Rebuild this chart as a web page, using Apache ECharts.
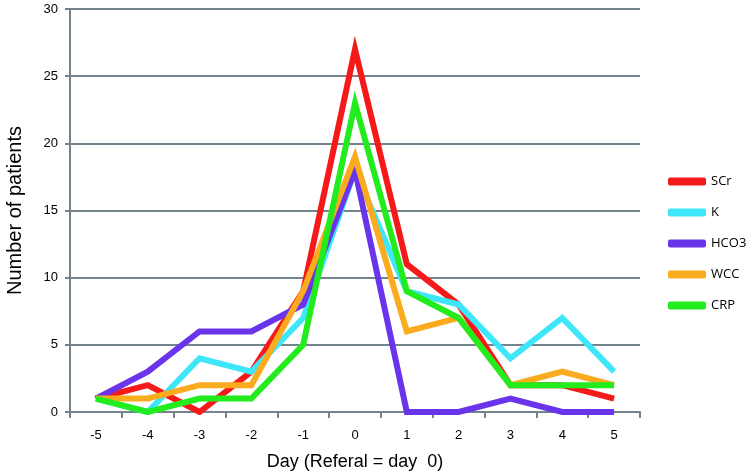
<!DOCTYPE html>
<html>
<head>
<meta charset="utf-8">
<script src="https://cdn.jsdelivr.net/npm/echarts@6/dist/echarts.min.js"></script>
<style>
  html, body { margin: 0; padding: 0; background: #fff; }
  #chart { width: 750px; height: 474px; }
</style>
</head>
<body>
<div id="chart"></div>
<script>
const days = ['-5', '-4', '-3', '-2', '-1', '0', '1', '2', '3', '4', '5']
const scr = [1, 2, 0, 3, 9, 27, 11, 8, 2, 2, 1]
const k = [1, 0, 4, 3, 7, 18, 9, 8, 4, 7, 3]
const hco3 = [1, 3, 6, 6, 8, 18, 0, 0, 1, 0, 0]
const wcc = [1, 1, 2, 2, 9, 19, 6, 7, 2, 3, 2]
const crp = [1, 0, 1, 1, 5, 23, 9, 7, 2, 2, 2]

const axisGrey = '#74848c'

const line = (name, data, color) => ({
  name,
  type: 'line',
  data,
  symbol: 'none',
  animation: false,
  lineStyle: { color, width: 6, join: 'miter' },
  itemStyle: { color },
})

const chart = echarts.init(document.getElementById('chart'))
chart.setOption({
  animation: false,
  textStyle: { fontFamily: 'Liberation Sans' },
  grid: { left: 70, right: 110, top: 9, bottom: 62, outerBoundsMode: 'none', containLabel: false },
  legend: {
    orient: 'vertical',
    left: 663,
    top: 170,
    itemWidth: 38,
    itemHeight: 8,
    itemGap: 18,
    icon: 'roundRect',
    textStyle: { fontSize: 13, color: '#000', fontFamily: 'Open Sans' },
    data: ['SCr', 'K', 'HCO3', 'WCC', 'CRP'],
  },
  xAxis: {
    type: 'category',
    data: days,
    boundaryGap: true,
    name: 'Day (Referal = day  0)',
    nameLocation: 'middle',
    nameGap: 41,
    nameTextStyle: { fontSize: 18, color: '#000' },
    axisLine: { lineStyle: { color: axisGrey, width: 2 } },
    axisTick: { show: true, length: 6, lineStyle: { color: axisGrey, width: 2 } },
    axisLabel: { fontSize: 13, color: '#000', margin: 17 },
  },
  yAxis: {
    type: 'value',
    min: 0,
    max: 30,
    interval: 5,
    name: 'Number of patients',
    nameLocation: 'middle',
    nameGap: 45,
    nameTextStyle: { fontSize: 20, color: '#000' },
    axisLine: { show: true, lineStyle: { color: axisGrey, width: 2 } },
    axisTick: { show: true, length: 5, lineStyle: { color: axisGrey, width: 2 } },
    axisLabel: { fontSize: 13, color: '#000', margin: 12 },
    splitLine: { lineStyle: { color: axisGrey, width: 2 } },
  },
  series: [
    line('SCr', scr, '#f51a1a'),
    line('K', k, '#3ee6fa'),
    line('HCO3', hco3, '#6a35ea'),
    line('WCC', wcc, '#fbab1e'),
    line('CRP', crp, '#22ec1e'),
  ],
})
</script>
</body>
</html>
